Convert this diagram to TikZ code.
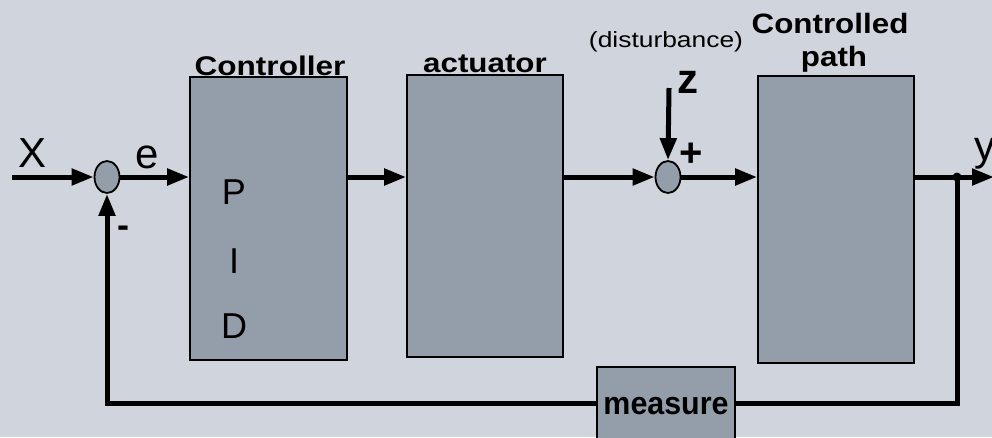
\documentclass[tikz,border=0pt]{standalone}
\usepackage{fontspec}
\setmainfont{Liberation Sans}
\usetikzlibrary{shapes.geometric,arrows.meta}
\definecolor{bgc}{RGB}{208,212,220}
\definecolor{boxc}{RGB}{148,158,170}
\newcommand{\fs}[1]{\fontsize{#1}{#1}\selectfont}
\begin{document}
\begin{tikzpicture}[x=1pt,y=-1pt,
  blk/.style={draw=black,line width=1.8pt,fill=boxc,rectangle,inner sep=0pt},
  sumc/.style={draw=black,line width=1.8pt,fill=boxc,ellipse,minimum width=25pt,minimum height=32pt,inner sep=0pt},
  wire/.style={line width=5pt},
  arr/.style={wire,-{Triangle[length=22pt,width=16pt]}},
  txt/.style={inner sep=0pt,outer sep=0pt}]
\useasboundingbox (0,0) rectangle (992,437);
\clip (0,0) rectangle (992,437);
\fill[bgc] (0,0) rectangle (992,437);

% blocks
\node[blk,minimum width=157pt,minimum height=283pt] (ctrl) at (268.5,218.5) {};
\node[blk,minimum width=156pt,minimum height=282pt] (act) at (485,216) {};
\node[blk,minimum width=156pt,minimum height=287pt] (plant) at (836,219.5) {};
\node[blk,minimum width=138pt,minimum height=72pt] (meas) at (666,403) {};
\node[sumc] (s1) at (107,177) {};
\node[sumc] (s2) at (668,177) {};

\coordinate (xin) at (12,177);
\coordinate (yout) at (994,177);
\coordinate (tap) at (957,177);
\coordinate (zin) at (669,88);

% connectors
\draw[arr] (xin) -- (s1.west);
\draw[arr] (s1.east) -- (s1.east -| ctrl.west);
\draw[arr] (ctrl.east |- s1) -- (act.west |- s1);
\draw[arr] (act.east |- s2) -- (s2.west);
\draw[arr] (s2.east) -- (plant.west |- s2);
\draw[arr] (plant.east |- s2) -- (yout);
\draw[arr] (zin) -- (s2.north);
\draw[wire] (tap) |- (meas.east);
\draw[arr] (meas.west) -| (s1.south);
\fill (tap) circle (4.5pt);

% labels
\node[txt,anchor=base west] (lx) at (18,167) {\fs{42}X};
\node[txt,anchor=base west] (le) at (135,168) {\fs{42}e};
\node[txt,anchor=base west] (ly) at (974,160) {\fs{42}y};
\node[txt,anchor=base] (lminus) at (123,237) {\fs{36}\bfseries -};
\node[txt,anchor=base west] (lz) at (677,93) {\fs{42}\bfseries z};
\node[txt] (lplus) at (691,155) {\fs{40}\bfseries +};
\node[txt,anchor=base] (lp) at (234,204) {\fs{36}P};
\node[txt,anchor=base] (li) at (234,273) {\fs{36}I};
\node[txt,anchor=base] (ld) at (234,338) {\fs{36}D};
\node[txt,anchor=base] (lctrl) at (270,75) {\scalebox{1.17}[1]{\fs{27}\bfseries Controller}};
\node[txt,anchor=base] (lact) at (485,72) {\scalebox{1.16}[1]{\fs{27}\bfseries actuator}};
\node[txt,anchor=base] (lcon) at (830,33) {\scalebox{1.12}[1]{\fs{28}\bfseries Controlled}};
\node[txt,anchor=base] (lpath) at (834,66) {\scalebox{1.12}[1]{\fs{28}\bfseries path}};
\node[txt,anchor=base] (ldist) at (666,47) {\scalebox{1.2}[1]{\fs{22}(disturbance)}};
\node[txt,anchor=base] (lmeas) at (666,414) {\scalebox{0.95}[1]{\fs{32}\bfseries measure}};
\end{tikzpicture}
\end{document}
